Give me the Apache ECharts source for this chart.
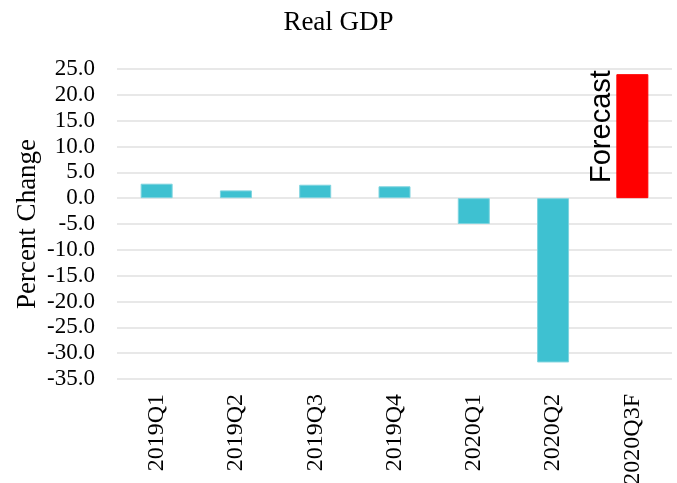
<!DOCTYPE html>
<html><head><meta charset="utf-8">
<script src="https://cdn.jsdelivr.net/npm/echarts@6/dist/echarts.min.js"></script>
<style>html,body{margin:0;padding:0;background:#fff}#c{width:677px;height:483px}</style>
</head><body><div id="c"></div>
<script>
var categories = ['2019Q1','2019Q2','2019Q3','2019Q4','2020Q1','2020Q2','2020Q3F'];
var values = [2.8, 1.5, 2.6, 2.3, -5.0, -31.8, 24.0];
var forecastIndex = 6;
var forecastLabel = 'Forecast';

var serif = '"Liberation Serif", "Times New Roman", serif';
var chart = echarts.init(document.getElementById('c'));
var data = values.map(function (v, i) {
  if (i === forecastIndex) {
    return {
      value: v,
      itemStyle: { color: '#ff0000', borderColor: '#ff0000' },
      label: {
        show: true, formatter: forecastLabel, position: [0, -4], rotate: 90,
        align: 'right', verticalAlign: 'bottom',
        fontFamily: '"Liberation Sans", Arial, sans-serif', fontSize: 29, color: '#000'
      }
    };
  }
  return v;
});
chart.setOption({
  animation: false,
  title: { text: 'Real GDP', left: 'center', top: 4,
    textStyle: { fontFamily: serif, fontWeight: 'normal', fontSize: 27, color: '#000' } },
  grid: { left: 117, right: 5, top: 69, bottom: 104, containLabel: false, outerBoundsMode: 'none' },
  xAxis: {
    type: 'category', data: categories,
    axisLine: { show: false }, axisTick: { show: false },
    axisLabel: { rotate: 90, interval: 0, margin: 15, fontFamily: serif, fontSize: 24, color: '#000' }
  },
  yAxis: {
    type: 'value', min: -35, max: 25, interval: 5,
    name: 'Percent Change', nameLocation: 'middle', nameGap: 76, nameMoveOverlap: false,
    nameTextStyle: { fontFamily: serif, fontSize: 27, color: '#000' },
    axisLine: { show: false }, axisTick: { show: false },
    axisLabel: { formatter: function (v) { return v.toFixed(1); }, margin: 22,
      fontFamily: serif, fontSize: 23, color: '#000' },
    splitLine: { lineStyle: { color: '#e0e0e0', width: 1.5 } }
  },
  series: [{
    type: 'bar', data: data, barWidth: 32,
    itemStyle: { color: '#3ec1d1', borderColor: '#7fd4df', borderWidth: 1 }
  }]
});
</script></body></html>
